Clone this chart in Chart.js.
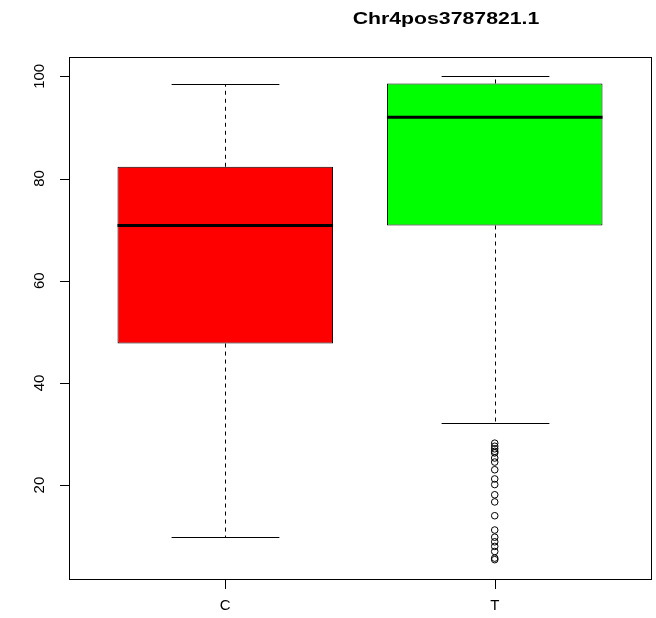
<!DOCTYPE html>
<html>
<head>
<meta charset="utf-8">
<title>Chr4pos3787821.1</title>
<script src="https://cdn.jsdelivr.net/npm/chart.js@4/dist/chart.umd.min.js"></script>
<style>
    body { margin: 0; background: #fff; }
    #wrap { width: 656px; height: 618px; }
</style>
</head>
<body>
<div id="wrap"><canvas id="boxChart" width="656" height="618"></canvas></div>
<script>
// Box plot data
const categories = ['C', 'T'];
const whiskerLow = [9.8, 32.2];
const q1 = [47.7, 70.8];
const median = [70.8, 92.0];
const q3 = [82.3, 98.6];
const whiskerHigh = [98.5, 100];
const outliersT = [28.2, 27.6, 27.1, 26.6, 26.3, 25.3, 24.5, 23.0, 21.2, 20.1,
                   18.1, 16.7, 14.0, 11.2, 9.8, 8.9, 8.0, 7.0, 5.7, 5.4];
const yTicks = [20, 40, 60, 80, 100];
const chartTitle = 'Chr4pos3787821.1';

const boxColors = ['#FF0000', '#00FF00'];

// R-style axis limits: data range padded by 4%
const allValues = whiskerLow.concat(whiskerHigh, outliersT);
const lo = Math.min(...allValues), hi = Math.max(...allValues);
const yPad = (hi - lo) * 0.04;
const xPad = categories.length * 0.04;

const boxPlotDecor = {
    id: 'boxPlotDecor',
    afterDatasetsDraw(chart) {
        const ctx = chart.ctx;
        const x = chart.scales.x, y = chart.scales.y;
        const area = chart.chartArea;
        const bars = chart.getDatasetMeta(0).data;

        ctx.save();
        ctx.strokeStyle = '#000';

        bars.forEach((bar, i) => {
            const cx = Math.round(x.getPixelForValue(i + 1)) + 0.5;
            const half = bar.width / 2;

            // dashed whiskers
            ctx.lineWidth = 1;
            ctx.setLineDash([4, 4]);
            ctx.beginPath();
            ctx.moveTo(cx, y.getPixelForValue(q3[i]));
            ctx.lineTo(cx, y.getPixelForValue(whiskerHigh[i]));
            ctx.moveTo(cx, y.getPixelForValue(q1[i]));
            ctx.lineTo(cx, y.getPixelForValue(whiskerLow[i]));
            ctx.stroke();

            // whisker caps
            ctx.setLineDash([]);
            ctx.beginPath();
            [whiskerHigh[i], whiskerLow[i]].forEach(v => {
                const py = Math.round(y.getPixelForValue(v)) + 0.5;
                ctx.moveTo(cx - half / 2, py);
                ctx.lineTo(cx + half / 2, py);
            });
            ctx.stroke();

            // median
            ctx.lineWidth = 3;
            ctx.beginPath();
            const my = y.getPixelForValue(median[i]);
            ctx.moveTo(bar.x - half, my);
            ctx.lineTo(bar.x + half, my);
            ctx.stroke();
        });

        // frame around the plot region
        ctx.lineWidth = 1;
        ctx.strokeRect(Math.round(area.left) + 0.5, Math.round(area.top) + 0.5,
                       Math.round(area.right - area.left), Math.round(area.bottom - area.top));

        ctx.fillStyle = '#000';
        ctx.font = '15px "Liberation Sans", Arial, sans-serif';

        // y axis ticks and rotated labels
        ctx.beginPath();
        yTicks.forEach(v => {
            const py = Math.round(y.getPixelForValue(v)) + 0.5;
            ctx.moveTo(area.left - 9, py);
            ctx.lineTo(area.left, py);
        });
        ctx.stroke();
        ctx.textAlign = 'center';
        ctx.textBaseline = 'middle';
        yTicks.forEach(v => {
            ctx.save();
            ctx.translate(area.left - 29, y.getPixelForValue(v));
            ctx.rotate(-Math.PI / 2);
            ctx.fillText(String(v), 0, 0);
            ctx.restore();
        });

        // x axis ticks and labels
        ctx.beginPath();
        categories.forEach((c, i) => {
            const px = Math.round(x.getPixelForValue(i + 1)) + 0.5;
            ctx.moveTo(px, area.bottom);
            ctx.lineTo(px, area.bottom + 10);
        });
        ctx.stroke();
        categories.forEach((c, i) => {
            ctx.fillText(c, x.getPixelForValue(i + 1), area.bottom + 27);
        });

        // title
        ctx.font = 'bold 17px "Liberation Sans", Arial, sans-serif';
        ctx.save();
        ctx.translate(446, 19);
        ctx.scale(1.25, 1);
        ctx.fillText(chartTitle, 0, 0);
        ctx.restore();

        ctx.restore();
    }
};

const ctx = document.getElementById('boxChart').getContext('2d');
new Chart(ctx, {
    type: 'bar',
    data: {
        datasets: [
            {
                type: 'bar',
                data: categories.map((c, i) => ({ x: i + 1, y: [q1[i], q3[i]] })),
                backgroundColor: boxColors,
                borderColor: '#000',
                borderWidth: 1,
                borderSkipped: false,
                categoryPercentage: 1,
                barPercentage: 0.8
            },
            {
                type: 'scatter',
                data: outliersT.map(v => ({ x: 2, y: v })),
                pointStyle: 'circle',
                pointRadius: 3.3,
                borderColor: '#000',
                borderWidth: 1,
                backgroundColor: 'rgba(0,0,0,0)'
            }
        ]
    },
    options: {
        responsive: false,
        animation: false,
        layout: { padding: { left: 69, right: 5, top: 57, bottom: 39 } },
        plugins: {
            legend: { display: false },
            tooltip: { enabled: false },
            title: { display: false }
        },
        scales: {
            x: {
                type: 'linear',
                display: false,
                offset: false,
                min: 1 - 0.5 - xPad,
                max: categories.length + 0.5 + xPad,
                // one tick per category so the bar width follows the category spacing
                afterBuildTicks: scale => {
                    scale.ticks = categories.map((c, i) => ({ value: i + 1 }));
                }
            },
            y: {
                type: 'linear',
                display: false,
                min: lo - yPad,
                max: hi + yPad
            }
        }
    },
    plugins: [boxPlotDecor]
});
</script>
</body>
</html>
